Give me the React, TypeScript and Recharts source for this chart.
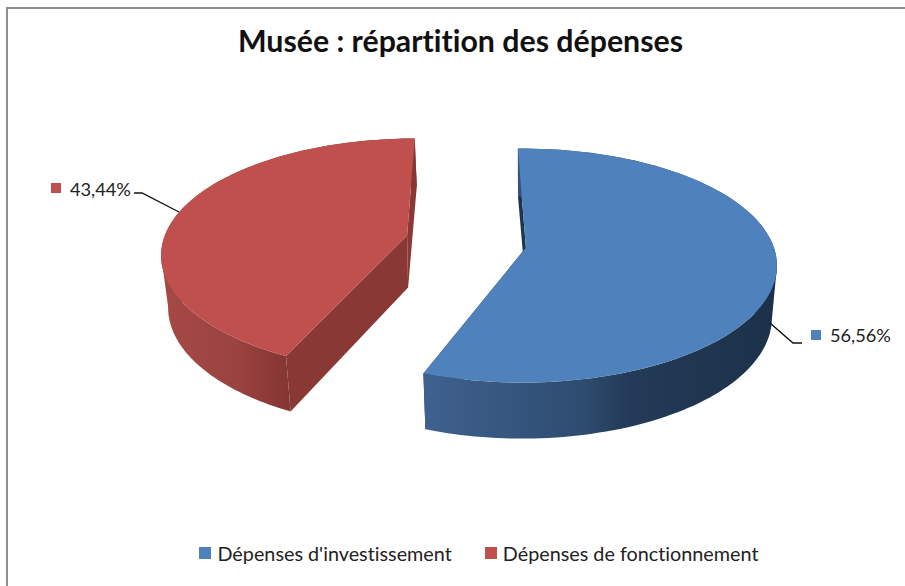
import { Legend, Pie, PieChart } from "recharts";

const categories = ["Dépenses d'investissement", "Dépenses de fonctionnement"];
const shares = [56.56, 43.44];
const colors = ["#4f81bd", "#c0504d"];

const rows = categories.map((name, i) => ({ name, value: shares[i], fill: colors[i] }));

const FONT = "Lato, sans-serif";
const CX = 469;
const CY = 260.5;
const RX = 255;
const RY = 117;
const EXPLODE = 0.212;
const BOTTOM = { dy: 52, rx: 250, ry: 121 };

// per slice tweaks, the source chart has a bit of perspective on it
const sliceLook = [
  {
    sweep: 1,
    shift: -0.9,
    apex: [4, -18],
    lowDx: 0,
    wall: [["0%", "#3f618e"], ["45%", "#2e4c70"], ["58%", "#233b58"], ["100%", "#1c3049"]],
    cut: "#1c3550",
    gradId: "wallBlue",
  },
  {
    sweep: 0.953,
    shift: -0.3,
    apex: [-9, -20],
    lowDx: 2,
    wall: [["0%", "#a64946"], ["60%", "#9a4340"], ["100%", "#863633"]],
    cut: "#8a3835",
    gradId: "wallRed",
  },
];

const labelSpots = [
  { line: "M770 323 L793 343 L802 343", box: [811, 330], text: [830, 342] },
  { line: "M134 193 L142 193 L179 212", box: [51, 183], text: [70, 196] },
];

const rad = (d: number) => (d * Math.PI) / 180;

function poly(points: number[][]) {
  return "M" + points.map((p) => `${p[0].toFixed(1)} ${p[1].toFixed(1)}`).join(" L") + " Z";
}

function ThreeDSlice(props: any) {
  const { name, startAngle, endAngle, midAngle, fill } = props;
  const look = sliceLook[categories.indexOf(name)];

  // recharts angles -> clockwise from 12 o'clock
  const from = 90 - startAngle;
  const to = 90 - endAngle;
  const mid = 90 - midAngle;
  const warp = (t: number) => to - (to - t) * look.sweep + look.shift;

  const cx = CX + EXPLODE * RX * Math.sin(rad(mid));
  const cy = CY - EXPLODE * RY * Math.cos(rad(mid));

  const top: number[][] = [];
  const bottom: number[][] = [];
  for (let i = 0; i <= 120; i++) {
    const t = rad(warp(from + ((to - from) * i) / 120));
    top.push([cx + RX * Math.sin(t), cy - RY * Math.cos(t)]);
    bottom.push([cx + look.lowDx + BOTTOM.rx * Math.sin(t), cy + BOTTOM.dy - BOTTOM.ry * Math.cos(t)]);
  }
  const apex = [cx + look.apex[0], cy + look.apex[1]];
  const apexLow = [apex[0] + 1, apex[1] + BOTTOM.dy];
  const last = top.length - 1;

  // the widest rim point, the wall silhouette runs straight down from there
  let far = 0;
  top.forEach((p, i) => {
    if (Math.abs(p[0] - cx) > Math.abs(top[far][0] - cx)) far = i;
  });
  const inside = [cx + (top[far][0] - cx) * 0.7, cy + 30];
  const front = top.filter((p) => p[1] >= cy).map((p) => p[0]);
  const wallFill = `url(#${look.gradId})`;

  return (
    <g>
      <defs>
        <linearGradient
          id={look.gradId}
          gradientUnits="userSpaceOnUse"
          x1={Math.min(...front)}
          x2={Math.max(...front)}
          y1="0"
          y2="0"
        >
          {look.wall.map(([o, c]) => (
            <stop key={o} offset={o} stopColor={c} />
          ))}
        </linearGradient>
      </defs>
      <path d={poly([top[0], bottom[0], apexLow, apex])} fill={look.cut} />
      <path d={poly([top[last], bottom[last], apexLow, apex])} fill={look.cut} />
      <path d={poly([...top, ...[...bottom].reverse()])} fill={wallFill} />
      <path d={poly([top[far], bottom[far], inside])} fill={wallFill} />
      <path d={poly([apex, ...top])} fill={fill} />
    </g>
  );
}

function SliceLabel(props: any) {
  const i = categories.indexOf(props.name);
  const spot = labelSpots[i];
  return (
    <g>
      <path d={spot.line} fill="none" stroke="#111" strokeWidth={1.4} />
      <rect x={spot.box[0]} y={spot.box[1]} width={10} height={10} fill={colors[i]} />
      <text x={spot.text[0]} y={spot.text[1]} fontSize={18.2} fontFamily={FONT} fill="#222">
        {shares[i].toFixed(2).replace(".", ",")}%
      </text>
    </g>
  );
}

function LegendRow({ payload }: any) {
  return (
    <div
      style={{
        display: "flex",
        justifyContent: "center",
        gap: 33,
        fontFamily: FONT,
        fontSize: 19.8,
        color: "#222",
        fontVariantLigatures: "none",
      }}
    >
      {(payload || []).map((p: any) => (
        <div key={p.value} style={{ display: "flex", alignItems: "center", gap: 6 }}>
          <span style={{ width: 12, height: 12, background: p.color, display: "inline-block" }} />
          {p.value}
        </div>
      ))}
    </div>
  );
}

export default function App() {
  return (
    <div
      style={{
        position: "absolute",
        left: 0,
        top: 0,
        width: 905,
        height: 586,
        overflow: "hidden",
        background: "#fff",
      }}
    >
      <div
        style={{
          position: "absolute",
          left: 6,
          top: 7,
          right: -5,
          bottom: -5,
          borderLeft: "2px solid #8f8f8f",
          borderTop: "2px solid #8f8f8f",
        }}
      />
      <div
        style={{
          position: "absolute",
          left: 0,
          width: 921,
          top: 22,
          textAlign: "center",
          fontFamily: FONT,
          fontWeight: 700,
          fontSize: 30.3,
          color: "#111",
          fontVariantLigatures: "none",
        }}
      >
        Musée : répartition des dépenses
      </div>
      <PieChart width={905} height={586} style={{ position: "absolute", left: 0, top: 0 }}>
        <Pie
          data={rows}
          dataKey="value"
          nameKey="name"
          cx={CX}
          cy={CY}
          outerRadius={RX}
          startAngle={90}
          endAngle={-270}
          stroke="none"
          shape={ThreeDSlice}
          label={SliceLabel}
          labelLine={false}
          isAnimationActive={false}
        />
        <Legend
          content={LegendRow}
          verticalAlign="bottom"
          wrapperStyle={{ left: 0, width: 958, bottom: 21 }}
        />
      </PieChart>
    </div>
  );
}
